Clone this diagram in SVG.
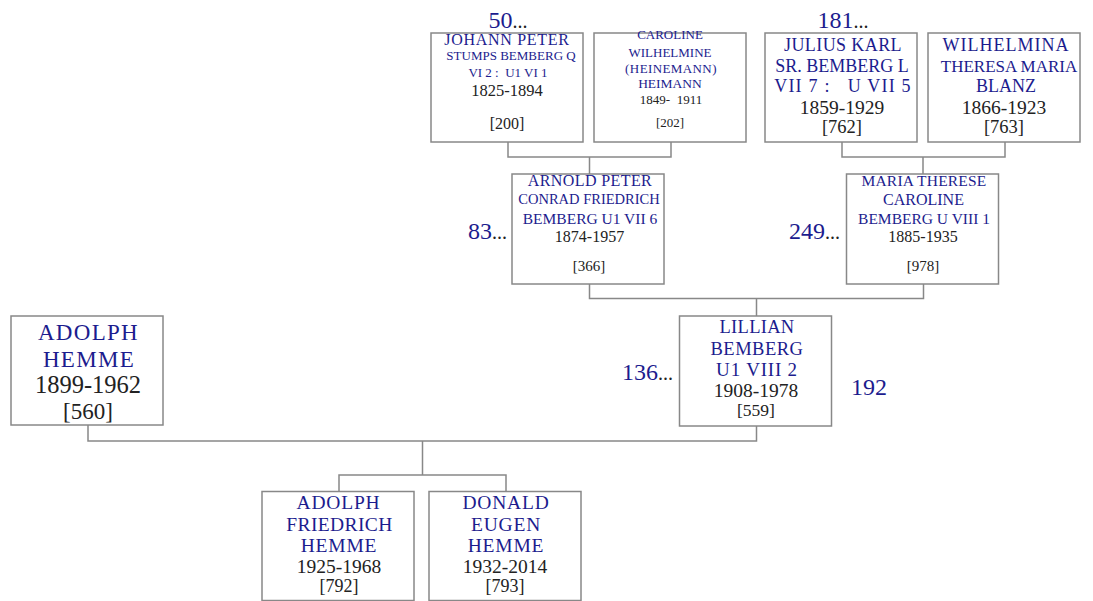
<svg xmlns="http://www.w3.org/2000/svg" width="1093" height="601" viewBox="0 0 1093 601">
<style>
.box{fill:#fff;stroke:#888;stroke-width:1.5}
.conn{fill:none;stroke:#888;stroke-width:1.5}
text{font-family:"Liberation Serif","DejaVu Serif",serif;text-anchor:middle}
.n{fill:#1c1c8e}
.d{fill:#222}
.num{fill:#1c1c8e;font-size:24px}
.dots{fill:#222;font-size:20px}
</style>
<rect width="1093" height="601" fill="#fff"/>
<g id="connectors">
<path class="conn" d="M508,142 V157 H671 V142 M589.5,157 V174"/>
<path class="conn" d="M842,142 V157 H1005 V142 M923,157 V174"/>
<path class="conn" d="M589.5,284 V298.5 H923.5 V284 M756.5,298.5 V316"/>
<path class="conn" d="M88,425 V441 H756.5 V426 M422.5,441 V475 M339,491.5 V475 H506 V491.5"/>
</g>
<g id="johann">
<rect class="box" x="431" y="33" width="152" height="109"/>
<text class="n" x="507" y="45" font-size="16" letter-spacing="0.7">JOHANN PETER</text>
<text class="n" x="511" y="60" font-size="13">STUMPS BEMBERG Q</text>
<text class="n" x="508" y="77" font-size="13" xml:space="preserve">VI 2 :  U1 VI 1</text>
<text class="d" x="507" y="96" font-size="16.5">1825-1894</text>
<text class="d" x="507" y="129" font-size="16">[200]</text>
</g>
<g id="caroline">
<rect class="box" x="594" y="33" width="152" height="109"/>
<text class="n" x="670" y="39" font-size="13">CAROLINE</text>
<text class="n" x="670" y="57" font-size="13">WILHELMINE</text>
<text class="n" x="671" y="73" font-size="13" letter-spacing="0.4">(HEINEMANN)</text>
<text class="n" x="670" y="88" font-size="13.5">HEIMANN</text>
<text class="d" x="671" y="104" font-size="13" xml:space="preserve">1849-  1911</text>
<text class="d" x="670" y="127" font-size="13">[202]</text>
</g>
<g id="julius">
<rect class="box" x="765" y="33" width="152" height="109"/>
<text class="n" x="843" y="51" font-size="18" letter-spacing="0.4">JULIUS KARL</text>
<text class="n" x="842" y="72" font-size="18">SR. BEMBERG L</text>
<text class="n" x="843" y="92" font-size="18" letter-spacing="1.2" xml:space="preserve">VII 7 :   U VII 5</text>
<text class="d" x="842" y="114" font-size="19.5">1859-1929</text>
<text class="d" x="842" y="133" font-size="18.5">[762]</text>
</g>
<g id="wilhelmina">
<rect class="box" x="928" y="33" width="152" height="109"/>
<text class="n" x="1006" y="51" font-size="18" letter-spacing="1">WILHELMINA</text>
<text class="n" x="1009" y="72" font-size="17">THERESA MARIA</text>
<text class="n" x="1006" y="92" font-size="18">BLANZ</text>
<text class="d" x="1004" y="114" font-size="19.5">1866-1923</text>
<text class="d" x="1004" y="133" font-size="18.5">[763]</text>
</g>
<g id="arnold">
<rect class="box" x="512" y="174" width="152" height="110"/>
<text class="n" x="590" y="185.5" font-size="16" letter-spacing="0.4">ARNOLD PETER</text>
<text class="n" x="589" y="203.5" font-size="14.5">CONRAD FRIEDRICH</text>
<text class="n" x="590" y="223.5" font-size="15.5">BEMBERG U1 VII 6</text>
<text class="d" x="589.5" y="241.5" font-size="16">1874-1957</text>
<text class="d" x="589" y="271" font-size="15">[366]</text>
</g>
<g id="maria">
<rect class="box" x="846.5" y="174" width="152" height="110"/>
<text class="n" x="924" y="185.5" font-size="15.5" letter-spacing="0.2">MARIA THERESE</text>
<text class="n" x="923.5" y="205" font-size="16">CAROLINE</text>
<text class="n" x="924" y="223.5" font-size="15.5">BEMBERG U VIII 1</text>
<text class="d" x="923" y="241.5" font-size="16">1885-1935</text>
<text class="d" x="923" y="271" font-size="15">[978]</text>
</g>
<g id="lillian">
<rect class="box" x="679.5" y="316" width="152" height="110"/>
<text class="n" x="757" y="333" font-size="18.5" letter-spacing="0.3">LILLIAN</text>
<text class="n" x="757" y="355" font-size="18.5" letter-spacing="0.5">BEMBERG</text>
<text class="n" x="757" y="376" font-size="19" letter-spacing="0.8">U1 VIII 2</text>
<text class="d" x="756" y="396.5" font-size="19.5">1908-1978</text>
<text class="d" x="756" y="416" font-size="17.5">[559]</text>
</g>
<g id="adolph">
<rect class="box" x="11" y="316" width="152" height="109"/>
<text class="n" x="88.5" y="340" font-size="23" letter-spacing="1.3">ADOLPH</text>
<text class="n" x="89" y="367" font-size="23" letter-spacing="1.3">HEMME</text>
<text class="d" x="88" y="393" font-size="24.5">1899-1962</text>
<text class="d" x="88" y="419" font-size="23">[560]</text>
</g>
<g id="adolph-friedrich">
<rect class="box" x="262" y="491.5" width="152" height="109"/>
<text class="n" x="338.5" y="509" font-size="19.5" letter-spacing="0.8">ADOLPH</text>
<text class="n" x="339.5" y="530.5" font-size="19.5" letter-spacing="0.4">FRIEDRICH</text>
<text class="n" x="339" y="551.5" font-size="19.5" letter-spacing="0.8">HEMME</text>
<text class="d" x="339" y="572.5" font-size="19.5">1925-1968</text>
<text class="d" x="339" y="592" font-size="18">[792]</text>
</g>
<g id="donald">
<rect class="box" x="429" y="491.5" width="152" height="109"/>
<text class="n" x="506" y="509" font-size="19.5" letter-spacing="0.8">DONALD</text>
<text class="n" x="506" y="530.5" font-size="19.5" letter-spacing="0.8">EUGEN</text>
<text class="n" x="506" y="551.5" font-size="19.5" letter-spacing="0.8">HEMME</text>
<text class="d" x="505" y="572.5" font-size="19.5">1932-2014</text>
<text class="d" x="505" y="592" font-size="18">[793]</text>
</g>
<g id="refs">
<text x="508" y="28"><tspan class="num">50</tspan><tspan class="dots">...</tspan></text>
<text x="843" y="28"><tspan class="num">181</tspan><tspan class="dots">...</tspan></text>
<text x="507" y="239" style="text-anchor:end"><tspan class="num">83</tspan><tspan class="dots">...</tspan></text>
<text x="840" y="239" style="text-anchor:end"><tspan class="num">249</tspan><tspan class="dots">...</tspan></text>
<text x="673" y="380" style="text-anchor:end"><tspan class="num">136</tspan><tspan class="dots">...</tspan></text>
<text class="num" x="851" y="395" style="text-anchor:start">192</text>
</g>
</svg>
